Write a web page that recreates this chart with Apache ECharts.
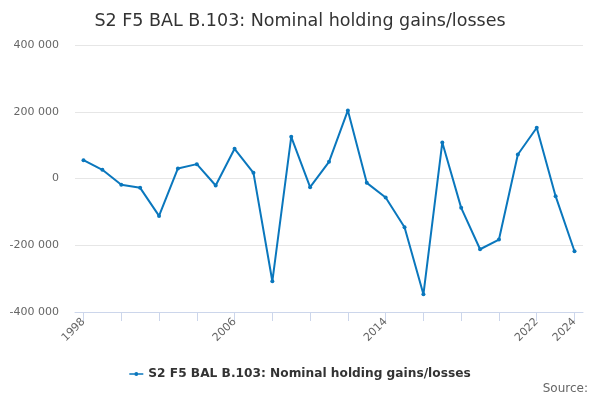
<!DOCTYPE html>
<html>
<head>
<meta charset="utf-8">
<script src="https://cdn.jsdelivr.net/npm/echarts@6/dist/echarts.min.js"></script>
<style>
  html, body { margin: 0; padding: 0; background: #fff; }
  #chart { width: 600px; height: 400px; }
</style>
</head>
<body>
<div id="chart"></div>
<script>
// 年份与数值
const years = [1998, 1999, 2000, 2001, 2002, 2003, 2004, 2005, 2006, 2007, 2008, 2009, 2010,
  2011, 2012, 2013, 2014, 2015, 2016, 2017, 2018, 2019, 2020, 2021, 2022, 2023, 2024];
const values = [55000, 26000, -19000, -28000, -112000, 30000, 43000, -21000, 89000, 17000, -308000, 125000, -26000,
  50000, 204000, -13000, -57000, -146000, -347000, 108000, -88000, -212000, -183000, 72000, 152000, -53000, -218000];
const tickYears = [1998, 2000, 2002, 2004, 2006, 2008, 2010, 2012, 2014, 2016, 2018, 2020, 2022, 2024];
const labelYears = [1998, 2006, 2014, 2022, 2024];
const seriesName = 'S2 F5 BAL B.103: Nominal holding gains/losses';

const FONT = 'DejaVu Sans';
const fmt = v => String(v).replace(/\B(?=(\d{3})+(?!\d))/g, ' ');

const c = echarts.init(document.getElementById('chart'));
c.setOption({
  animation: false,
  backgroundColor: '#fff',
  textStyle: { fontFamily: FONT },
  title: [
    { text: 'S2 F5 BAL B.103: Nominal holding gains/losses', left: 'center', top: 7,
      textStyle: { fontFamily: FONT, fontSize: 17.5, fontWeight: 'normal', color: '#333' } },
    { text: 'Source:', right: 7, bottom: 0,
      textStyle: { fontFamily: FONT, fontSize: 12, fontWeight: 'normal', color: '#666' } }
  ],
  legend: {
    data: [seriesName], bottom: 15, left: 'center', itemWidth: 14, itemHeight: 8, itemGap: 6,
    // 图例：线段 + 实心圆点
    icon: 'path://M0,3.3H5.2V4.7H0Z M8.8,3.3H14V4.7H8.8Z M5,4A2,2,0,1,1,9,4A2,2,0,1,1,5,4Z',
    textStyle: { fontFamily: FONT, fontSize: 12.2, fontWeight: 'bold', color: '#333' }
  },
  grid: { left: 75, right: 17, top: 45, bottom: 88 },
  xAxis: {
    type: 'value', min: 1997.55, max: 2024.45,
    axisLine: { show: true, onZero: false, lineStyle: { color: '#ccd6eb' } },
    axisTick: { show: true, length: 9, customValues: tickYears, lineStyle: { color: '#ccd6eb' } },
    axisLabel: { customValues: labelYears, rotate: 45, color: '#666', fontSize: 11, margin: 8,
      formatter: v => String(v) },
    splitLine: { show: false }
  },
  yAxis: {
    type: 'value', min: -400000, max: 400000, interval: 200000,
    axisLine: { show: false }, axisTick: { show: false },
    axisLabel: { color: '#666', fontSize: 11, margin: 16, padding: [3, 0, 0, 0], formatter: fmt },
    splitLine: { lineStyle: { color: '#e6e6e6' } }
  },
  series: [{
    name: seriesName, type: 'line',
    data: years.map((y, i) => [y, values[i]]),
    symbol: 'circle', symbolSize: 4,
    itemStyle: { color: '#0a77bd' }, lineStyle: { width: 2, color: '#0a77bd' }
  }]
});
</script>
</body>
</html>
